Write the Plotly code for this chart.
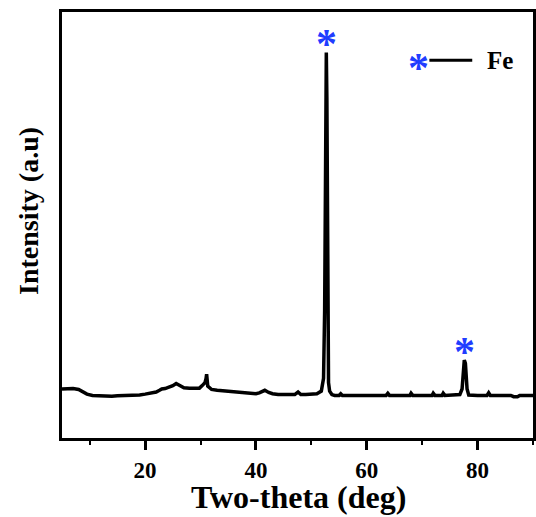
import plotly.graph_objects as go

# XRD pattern (two-theta in degrees, intensity in arbitrary units)
two_theta = [5.0, 6.0, 7.0, 8.0, 8.7, 9.5, 10.5, 12.0, 13.0, 14.0, 15.0, 16.0, 17.0, 18.0, 19.0, 20.0,
             21.0, 22.0, 22.6, 23.0, 23.6, 24.0, 24.6, 25.0, 25.6, 26.3, 27.0, 28.0, 29.0, 29.8,
             30.3, 30.8, 31.0, 31.1, 31.3, 31.6, 32.0, 33.0, 34.0, 35.0, 36.0, 37.0, 38.0, 39.0,
             40.0, 40.6, 41.0, 41.6, 42.3, 43.0, 44.0, 45.0, 46.0, 47.0, 47.6, 48.1, 49.0, 50.0,
             51.0, 51.8, 52.2, 52.4, 52.5, 52.6, 52.7, 52.8, 52.9, 53.0, 53.1, 53.3, 53.7, 54.2,
             55.0, 55.3, 55.6, 57.0, 59.0, 61.0, 63.5, 63.8, 64.1, 66.0, 67.8, 68.0, 68.3, 70.0,
             71.8, 72.0, 72.3, 73.6, 73.8, 74.1, 75.5, 76.8, 77.2, 77.4, 77.6, 77.8, 77.9, 78.1,
             78.4, 79.0, 80.0, 81.7, 82.0, 82.3, 84.0, 85.5, 86.0, 86.5, 87.2, 87.6, 88.5, 90.0]
intensity = [11.5, 11.6, 11.6, 11.4, 10.9, 10.3, 10.0, 9.9, 9.8, 9.8, 9.9, 9.9, 10.0, 10.0, 10.1, 10.3,
             10.5, 10.8, 11.2, 11.5, 11.6, 11.8, 12.0, 12.3, 12.8, 12.2, 11.8, 11.7, 11.6, 11.7,
             12.3, 13.0, 14.0, 15.0, 12.2, 11.8, 11.4, 11.2, 11.1, 11.0, 10.8, 10.6, 10.6, 10.5,
             10.4, 10.6, 10.9, 11.2, 10.7, 10.4, 10.2, 10.2, 10.1, 10.2, 10.8, 10.2, 10.2, 10.2,
             10.4, 11.0, 14.0, 30.0, 55.0, 75.0, 90.5, 80.0, 40.0, 20.0, 13.0, 11.0, 10.2, 10.0,
             10.0, 10.4, 10.0, 10.0, 10.0, 10.0, 10.0, 10.5, 10.0, 10.0, 10.0, 10.5, 10.0, 10.0,
             10.0, 10.5, 10.0, 10.0, 10.5, 10.0, 10.0, 10.2, 11.5, 16.0, 18.3, 17.5, 15.0, 11.5,
             10.1, 10.0, 10.0, 10.0, 10.6, 10.0, 10.0, 10.0, 10.0, 9.7, 9.7, 10.0, 10.0, 10.0]

fe_peaks_x = [52.7, 77.6]
fe_peaks_y = [90.5, 18.3]

x_range = [5, 90]
y_range = [0, 100]
x_ticks = [20, 40, 60, 80]
x_minor_ticks = [10, 30, 50, 70, 90]

x_title = "Two-theta (deg)"
y_title = "Intensity (a.u)"
legend_label = "Fe"

SERIF = "Liberation Serif, Times New Roman, serif"
BLUE = "#1f3dff"

fig = go.Figure()
fig.add_trace(go.Scatter(x=two_theta, y=intensity, mode="lines",
                         line=dict(color="black", width=3.5), showlegend=False,
                         hoverinfo="skip"))

for px, py in zip(fe_peaks_x, fe_peaks_y):
    fig.add_annotation(x=px, y=py, text="<b>*</b>", showarrow=False, xanchor="center",
                       yanchor="bottom", yshift=-17,
                       font=dict(family=SERIF, size=42, color=BLUE))

# legend-like marker: asterisk, line, Fe
fig.add_annotation(xref="paper", yref="paper", x=0.756, y=0.883, text="<b>*</b>",
                   showarrow=False, xanchor="center", yanchor="middle", yshift=-6,
                   font=dict(family=SERIF, size=42, color=BLUE))
fig.add_shape(type="line", xref="paper", yref="paper", x0=0.780, x1=0.871, y0=0.887, y1=0.887,
              line=dict(color="black", width=3))
fig.add_annotation(xref="paper", yref="paper", x=0.898, y=0.885, text=f"<b>{legend_label}</b>",
                   showarrow=False, xanchor="left", yanchor="middle",
                   font=dict(family=SERIF, size=25, color="black"))

# axis titles
fig.add_annotation(xref="paper", yref="paper", x=0.502, y=0, text=f"<b>{x_title}</b>",
                   showarrow=False, xanchor="center", yanchor="middle", yshift=-59,
                   font=dict(family=SERIF, size=32, color="black"))
fig.add_annotation(xref="paper", yref="paper", x=0, y=0.533, text=f"<b>{y_title}</b>",
                   showarrow=False, xanchor="center", yanchor="middle", xshift=-33,
                   textangle=-90, font=dict(family=SERIF, size=28, color="black"))

fig.update_layout(
    width=536, height=517,
    margin=dict(l=62, r=3, t=12, b=79),
    plot_bgcolor="white", paper_bgcolor="white",
    font=dict(family=SERIF, color="black"),
)
fig.update_xaxes(range=x_range, tickvals=x_ticks, ticktext=[f"<b>{t}</b>" for t in x_ticks],
                 showline=True, linecolor="black", linewidth=3, mirror=True,
                 ticks="outside", ticklen=9, tickwidth=3, tickcolor="black",
                 minor=dict(tickvals=x_minor_ticks, ticks="outside", ticklen=4,
                            tickwidth=2, tickcolor="black"),
                 showgrid=False, zeroline=False, automargin=False,
                 tickfont=dict(family=SERIF, size=23, color="black"))
fig.update_yaxes(range=y_range, showticklabels=False, ticks="",
                 showline=True, linecolor="black", linewidth=3, mirror=True,
                 showgrid=False, zeroline=False, automargin=False)

fig.write_html("out.html", config={"displayModeBar": False, "staticPlot": True},
               post_script="document.body.style.margin='0';document.body.style.overflow='hidden';")
